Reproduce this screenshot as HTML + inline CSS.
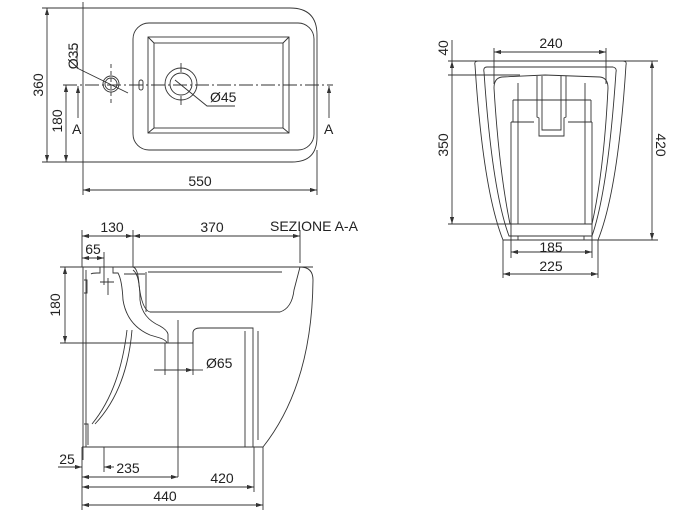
<!DOCTYPE html>
<html><head><meta charset="utf-8"><style>
html,body{margin:0;padding:0;background:#fff;}
svg{display:block}
text{font-family:"Liberation Sans",sans-serif;font-size:14px;fill:#222}
</style></head><body>
<svg width="690" height="518" viewBox="0 0 690 518" xmlns="http://www.w3.org/2000/svg">
<defs>
<marker id="a" viewBox="0 0 10 6" refX="10" refY="3" markerWidth="8" markerHeight="5" orient="auto-start-reverse"><path d="M0,0 L10,3 L0,6 z" fill="#333"/></marker>
</defs>
<g fill="none" stroke="#333" stroke-width="0.9">
<path d="M83,2 L83,195"/>
<path d="M83,8 L290,8 Q317,8 317,35 L317,137 Q317,162 292,162 L83,162"/>
<rect x="133" y="23" width="181" height="127" rx="16"/>
<rect x="148" y="37" width="141" height="96"/>
<rect x="154" y="43" width="129" height="85"/>
<path d="M148,37 L154,43 M289,37 L283,43 M148,133 L154,128 M289,133 L283,128"/>
<path d="M63,85 L333,85" stroke-dasharray="14,3,2,3"/>
<circle cx="111" cy="84" r="8"/><circle cx="111" cy="84" r="6"/>
<path d="M111,64 L111,105" stroke-dasharray="4,3"/>
<rect x="139" y="80" width="4" height="10" rx="2"/>
<circle cx="181" cy="84" r="16"/><circle cx="181" cy="84" r="11"/>
<path d="M181,63 L181,72 M181,96 L181,105"/>
<path d="M77,44 L77,68 L128,93"/>
<path d="M175,80 L207,106 L235,106"/>
<path d="M47,8 L47,162" marker-start="url(#a)" marker-end="url(#a)"/>
<path d="M42,8 L83,8 M42,162 L83,162"/>
<path d="M66,85 L66,162" marker-start="url(#a)" marker-end="url(#a)"/>
<path d="M78,118 L78,86" marker-end="url(#a)"/>
<path d="M329,118 L329,86" marker-end="url(#a)"/>
<path d="M317,150 L317,195"/>
<path d="M83,190 L317,190" marker-start="url(#a)" marker-end="url(#a)"/>
</g>
<text transform="translate(43,85) rotate(-90)" text-anchor="middle">360</text>
<text transform="translate(62,121) rotate(-90)" text-anchor="middle">180</text>
<text transform="translate(78,56) rotate(-90)" text-anchor="middle">Ø35</text>
<text x="72" y="134">A</text>
<text x="324" y="134">A</text>
<text x="210" y="102">Ø45</text>
<text x="200" y="186" text-anchor="middle">550</text>

<g fill="none" stroke="#333" stroke-width="0.9">
<path d="M494,52 L606,52" marker-start="url(#a)" marker-end="url(#a)"/>
<path d="M494,48 L494,84 M606,48 L606,84"/>
<path d="M448,61 L658,61 M448,75 L520,75 M448,224 L510,224 M598,240 L658,240"/>
<path d="M452,61 L452,224" marker-start="url(#a)" marker-end="url(#a)"/>
<path d="M452,40 L452,61" />
<path d="M652,61 L652,240" marker-start="url(#a)" marker-end="url(#a)"/>
<path d="M478,61 L623,61 Q627,61 626,65 Q618,190 598,240 L503,240 Q483,190 475,65 Q474,61 478,61 Z"/>
<path d="M487,67 L613,67 Q617,68 616,72 Q608,190 592,236 L509,236 Q492,190 484,72 Q483,67 487,67 Z"/>
<path d="M502,77 Q494,78 494,88 Q499,170 510,224 L592,224 Q604,170 608,88 Q608,78 600,77 L545,75 Z"/>
<path d="M511,122 L511,224 M592,122 L592,224 M511,122 L534,122 M568,122 L592,122"/>
<path d="M513,100 L591,100 M513,100 L513,122 M591,100 L591,122"/>
<path d="M537,76 L537,117 L539,118 L539,136 L564,136 L564,118 L566,117 L566,76"/>
<path d="M542,76 L542,130 L561,130 L561,76 M541,100 L562,100"/>
<path d="M518,83 L518,224 M585,83 L585,224"/>
<path d="M518,236 L584,236 L584,240 M518,236 L518,240"/>
<path d="M511,224 L511,258 M592,224 L592,258 M503,240 L503,278 M598,240 L598,278"/>
<path d="M511,252 L592,252" marker-start="url(#a)" marker-end="url(#a)"/>
<path d="M503,274 L598,274" marker-start="url(#a)" marker-end="url(#a)"/>
</g>
<text x="551" y="48" text-anchor="middle">240</text>
<text transform="translate(448,48) rotate(-90)" text-anchor="middle">40</text>
<text transform="translate(448,145) rotate(-90)" text-anchor="middle">350</text>
<text transform="translate(656,145) rotate(90)" text-anchor="middle">420</text>
<text x="551" y="252" text-anchor="middle">185</text>
<text x="551" y="271" text-anchor="middle">225</text>

<g fill="none" stroke="#333" stroke-width="0.9">
<path d="M82,236 L133,236" marker-start="url(#a)" marker-end="url(#a)"/>
<path d="M133,236 L300,236" marker-start="url(#a)" marker-end="url(#a)"/>
<path d="M82,230 L82,267 M133,230 L133,267 M300,230 L300,263"/>
<path d="M82,258 L104,258" marker-start="url(#a)" marker-end="url(#a)"/>
<path d="M104,252 L104,285"/>
<path d="M60,267 L313,267 M60,343 L170,343"/>
<path d="M65,267 L65,343" marker-start="url(#a)" marker-end="url(#a)"/>
<path d="M83,267 L83,460 M86,270 L86,447"/>
<path d="M84,280 L87,280 L87,293 L84,293"/>
<path d="M84,424 L88,424 L88,445"/>
<path d="M300,267 Q313,267 313,280 Q312,385 263,447 L82,447"/>
<path d="M133,267 Q138,268 139,285 Q142,310 150,312 L280,312 Q292,308 294,290 L300,267"/>
<path d="M146,272 L146,312 M148,272 L282,272"/>
<path d="M91,274 Q92,273 97,273 L100,273 L100,267 M113,267 L113,273 L118,273 Q122,280 123,300 Q127,325 150,335 L160,338 Q166,340 167,343 L193,343 L193,332 Q194,328 200,328 L253,328 L253,447"/>
<path d="M133,270 Q140,275 140,300 Q142,318 160,326 Q167,330 168,334"/>
<path d="M168,334 L168,343 M193,332 L193,343"/>
<path d="M245,331 L245,447 M258,331 L258,440"/>
<path d="M127,330 Q120,390 92,424 M132,330 Q127,390 95,424"/>
<path d="M108,278 L108,295 M100,282 L114,282"/>
<path d="M124,274 L145,274"/>
<path d="M178,320 L178,477"/>
<path d="M165,343 L165,375 M193,343 L193,375"/>
<path d="M154,370 L193,370" marker-end="url(#a)"/>
<path d="M203,370 L193,370"/>
<path d="M82,447 L82,510 M104,447 L104,472 M254,447 L254,492 M263,447 L263,510"/>
<path d="M58,467 L82,467" marker-end="url(#a)"/>
<path d="M104,467 L114,467" marker-start="url(#a)"/>
<path d="M82,477 L178,477" marker-start="url(#a)" marker-end="url(#a)"/>
<path d="M82,487 L254,487" marker-start="url(#a)" marker-end="url(#a)"/>
<path d="M82,505 L263,505" marker-start="url(#a)" marker-end="url(#a)"/>
</g>
<text x="112" y="232" text-anchor="middle">130</text>
<text x="212" y="232" text-anchor="middle">370</text>
<text x="270" y="231">SEZIONE A-A</text>
<text x="93" y="254" text-anchor="middle">65</text>
<text transform="translate(60,305) rotate(-90)" text-anchor="middle">180</text>
<text x="206" y="368">Ø65</text>
<text x="67" y="464" text-anchor="middle">25</text>
<text x="128" y="473" text-anchor="middle">235</text>
<text x="222" y="483" text-anchor="middle">420</text>
<text x="165" y="501" text-anchor="middle">440</text>
</svg>
</body></html>
